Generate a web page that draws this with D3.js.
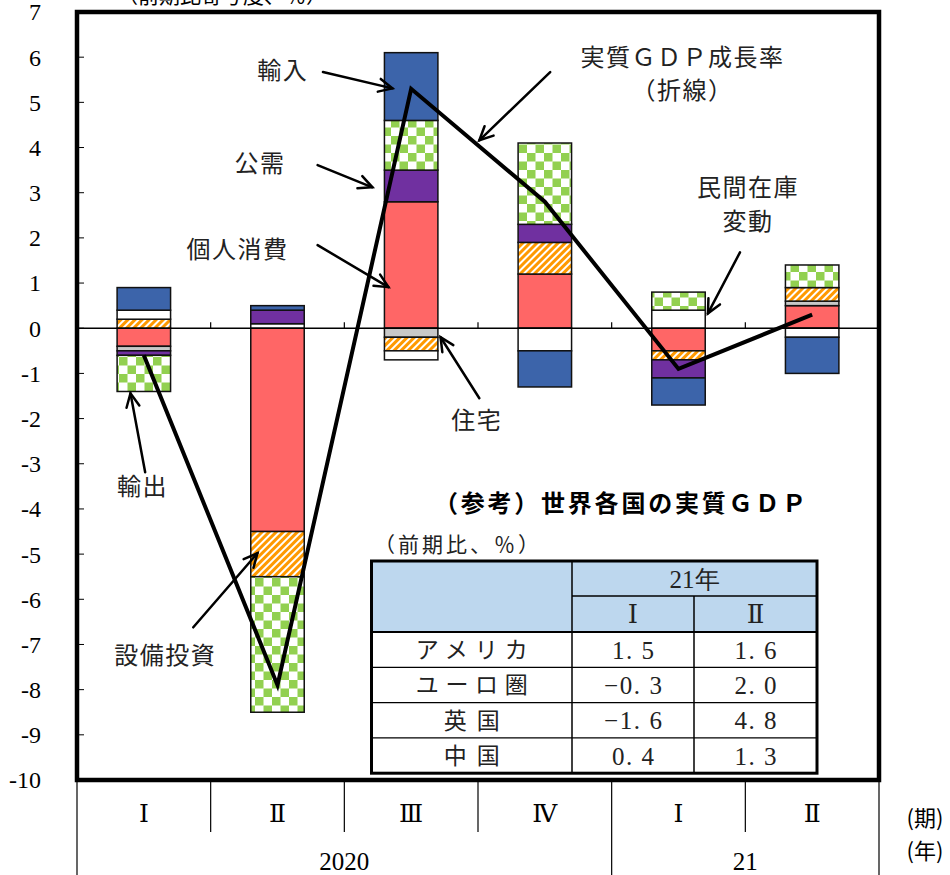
<!DOCTYPE html>
<html>
<head>
<meta charset="utf-8">
<script src="https://cdn.jsdelivr.net/npm/d3@7/dist/d3.min.js"></script>
<style>
  html, body { margin: 0; padding: 0; background: #fff; }
  svg { display: block; }
</style>
</head>
<body>
<svg id="chart" width="950" height="875"></svg>
<script>
// ---- data -------------------------------------------------------------
const quarters = ["Ⅰ", "Ⅱ", "Ⅲ", "Ⅳ", "Ⅰ", "Ⅱ"];
const years = ["2020", "21"];
const yearSpans = [4, 2];
const yTicks = [7, 6, 5, 4, 3, 2, 1, 0, -1, -2, -3, -4, -5, -6, -7, -8, -9, -10];

const seriesNames = ["個人消費", "住宅", "設備投資", "民間在庫変動", "公需", "輸出", "輸入"];
const privateConsumption = [-0.4, -4.5, 2.8, 1.2, -0.5, 0.5];
const housing            = [-0.1, 0.0, -0.2, 0.0, 0.0, 0.1];
const capex              = [0.2, -1.0, -0.3, 0.7, -0.2, 0.3];
const inventories        = [0.2, 0.1, -0.2, -0.5, 0.4, -0.2];
const publicDemand       = [-0.1, 0.3, 0.7, 0.4, -0.4, 0.0];
const exportsC           = [-0.8, -3.0, 1.1, 1.8, 0.4, 0.5];
const importsC           = [0.5, 0.1, 1.5, -0.8, -0.6, -0.8];
const realGdp            = [-0.6, -7.9, 5.3, 2.8, -0.9, 0.3];

// reference table: world real GDP, q/q %
const tableCountries = ["アメリカ", "ユーロ圏", "英国", "中国"];
const tableQ1 = ["1. 5", "−0. 3", "−1. 6", "0. 4"];
const tableQ2 = ["1. 6", "2. 0", "4. 8", "1. 3"];

// ---- setup ------------------------------------------------------------
const svg = d3.select("#chart");
const jp = "'Noto Sans CJK JP', 'Noto Sans', sans-serif";
const serif = "'Liberation Serif', 'DejaVu Serif', serif";

const plot = { left: 77, right: 879, top: 12, bottom: 780 };

const x = d3.scaleBand()
  .domain(d3.range(quarters.length))
  .range([plot.left, plot.right])
  .paddingInner(0.6).paddingOuter(0.3);
// continuous position in category units (0..6) for annotations and separators
const xc = d3.scaleLinear().domain([0, quarters.length]).range([plot.left, plot.right]);
const y = d3.scaleLinear().domain([-10, 7]).range([plot.bottom, plot.top]);

// fill patterns
const defs = svg.append("defs");
const checker = defs.append("pattern").attr("id", "checker")
  .attr("patternUnits", "userSpaceOnUse").attr("width", 17).attr("height", 17);
checker.append("rect").attr("width", 17).attr("height", 17).attr("fill", "#fff");
checker.append("rect").attr("width", 8.5).attr("height", 8.5).attr("fill", "#92D050");
checker.append("rect").attr("x", 8.5).attr("y", 8.5).attr("width", 8.5).attr("height", 8.5).attr("fill", "#92D050");

const hatch = defs.append("pattern").attr("id", "hatch")
  .attr("patternUnits", "userSpaceOnUse").attr("width", 5).attr("height", 5)
  .attr("patternTransform", "rotate(45)");
hatch.append("rect").attr("width", 5).attr("height", 5).attr("fill", "#fff");
hatch.append("rect").attr("width", 3).attr("height", 5).attr("fill", "#FF9900");

const fills = {
  "個人消費": "#FF6666",
  "住宅": "#C8C8C8",
  "設備投資": "url(#hatch)",
  "民間在庫変動": "#FFFFFF",
  "公需": "#7030A0",
  "輸出": "url(#checker)",
  "輸入": "#3C64AA"
};

// ---- stacked contributions -------------------------------------------
const columns = [privateConsumption, housing, capex, inventories, publicDemand, exportsC, importsC];
const rows = quarters.map((q, i) => {
  const r = { i };
  seriesNames.forEach((n, k) => { r[n] = columns[k][i]; });
  return r;
});
const stacked = d3.stack().keys(seriesNames).offset(d3.stackOffsetDiverging)(rows);

svg.append("g").selectAll("g").data(stacked).join("g")
  .attr("fill", d => fills[d.key])
  .selectAll("rect")
  .data(d => d.filter(s => Math.abs(s[1] - s[0]) > 1e-9))
  .join("rect")
  .attr("x", d => x(d.data.i))
  .attr("width", x.bandwidth())
  .attr("y", d => y(Math.max(d[0], d[1])))
  .attr("height", d => Math.abs(y(d[0]) - y(d[1])))
  .attr("stroke", "#111").attr("stroke-width", 1.5);

// zero line and boundary ticks
svg.append("line")
  .attr("x1", plot.left).attr("x2", plot.right)
  .attr("y1", y(0)).attr("y2", y(0))
  .attr("stroke", "#000").attr("stroke-width", 1.5);
svg.append("g").selectAll("line").data(d3.range(1, quarters.length)).join("line")
  .attr("x1", d => xc(d)).attr("x2", d => xc(d))
  .attr("y1", y(0)).attr("y2", y(0) - 6)
  .attr("stroke", "#000").attr("stroke-width", 1.2);

// real GDP growth line
svg.append("path")
  .datum(realGdp)
  .attr("d", d3.line().x((d, i) => x(i) + x.bandwidth() / 2).y(d => y(d)))
  .attr("fill", "none").attr("stroke", "#000").attr("stroke-width", 4)
  .attr("stroke-linejoin", "miter");

// y axis ticks and labels
svg.append("g").selectAll("line").data(yTicks).join("line")
  .attr("x1", plot.left).attr("x2", plot.left + 7)
  .attr("y1", d => y(d)).attr("y2", d => y(d))
  .attr("stroke", "#000").attr("stroke-width", 1);
svg.append("g").selectAll("text").data(yTicks).join("text")
  .attr("x", 41).attr("y", d => y(d))
  .attr("dy", "0.35em")
  .attr("text-anchor", "end")
  .attr("font-family", serif).attr("font-size", 24)
  .text(d => d < 0 ? "‐" + Math.abs(d) : String(d));

svg.append("text")
  .attr("x", 222).attr("y", 3)
  .attr("text-anchor", "middle")
  .attr("font-family", jp).attr("font-size", 21)
  .text("（前期比寄与度、％）");

// plot frame
svg.append("rect")
  .attr("x", plot.left).attr("y", plot.top)
  .attr("width", plot.right - plot.left).attr("height", plot.bottom - plot.top)
  .attr("fill", "none").attr("stroke", "#000").attr("stroke-width", 4.5);

// ---- category axis below the frame -----------------------------------
const yearBounds = [0];
yearSpans.forEach(s => yearBounds.push(yearBounds[yearBounds.length - 1] + s));
const axisG = svg.append("g");
axisG.selectAll("line.q").data(d3.range(0, quarters.length + 1)).join("line")
  .attr("x1", d => xc(d)).attr("x2", d => xc(d))
  .attr("y1", plot.bottom)
  .attr("y2", d => yearBounds.includes(d) ? 875 : 832)
  .attr("stroke", "#000").attr("stroke-width", 1.2);
axisG.selectAll("text.q").data(quarters).join("text")
  .attr("x", (d, i) => xc(i + 0.5)).attr("y", 813)
  .attr("dy", "0.35em").attr("text-anchor", "middle")
  .attr("font-family", serif).attr("font-size", 25)
  .text(d => d);
axisG.selectAll("text.y").data(years).join("text")
  .attr("x", (d, i) => xc((yearBounds[i] + yearBounds[i + 1]) / 2)).attr("y", 861)
  .attr("dy", "0.35em").attr("text-anchor", "middle")
  .attr("font-family", serif).attr("font-size", 25)
  .text(d => d);
axisG.append("text").attr("x", 925).attr("y", 818).attr("dy", "0.35em")
  .attr("text-anchor", "middle").attr("font-family", jp).attr("font-size", 22).text("(期)");
axisG.append("text").attr("x", 925).attr("y", 851).attr("dy", "0.35em")
  .attr("text-anchor", "middle").attr("font-family", jp).attr("font-size", 22).text("(年)");

// ---- annotations (positions in category units / percentage points) ---
const labels = [
  { t: "輸入", u: 1.54, v: 5.71 },
  { t: "公需", u: 1.37, v: 3.65 },
  { t: "個人消費", u: 1.20, v: 1.75 },
  { t: "実質ＧＤＰ成長率", u: 4.53, v: 6.00 },
  { t: "（折線）", u: 4.53, v: 5.27 },
  { t: "民間在庫", u: 5.02, v: 3.12 },
  { t: "変動", u: 5.02, v: 2.37 },
  { t: "住宅", u: 2.99, v: -2.04 },
  { t: "輸出", u: 0.49, v: -3.50 },
  { t: "設備投資", u: 0.66, v: -7.24 }
];
const arrows = [
  { u0: 1.84, v0: 5.67, u1: 2.36, v1: 5.31 },
  { u0: 1.80, v0: 3.61, u1: 2.21, v1: 3.12 },
  { u0: 1.80, v0: 1.84, u1: 2.33, v1: 0.91 },
  { u0: 3.54, v0: 5.67, u1: 3.01, v1: 4.16 },
  { u0: 4.96, v0: 1.68, u1: 4.72, v1: 0.33 },
  { u0: 3.01, v0: -1.55, u1: 2.72, v1: -0.20 },
  { u0: 0.51, v0: -3.19, u1: 0.40, v1: -1.44 },
  { u0: 0.87, v0: -6.62, u1: 1.35, v1: -4.98 }
];

svg.append("g").selectAll("text").data(labels).join("text")
  .attr("x", d => xc(d.u)).attr("y", d => y(d.v))
  .attr("dy", "0.36em").attr("text-anchor", "middle")
  .attr("font-family", jp).attr("font-size", 24).attr("letter-spacing", 1.5)
  .attr("fill", "#222")
  .text(d => d.t);

const arrowG = svg.append("g").attr("stroke", "#000").attr("stroke-width", 2.5)
  .attr("fill", "none").attr("stroke-linecap", "round");
arrows.forEach(a => {
  const x0 = xc(a.u0), y0 = y(a.v0), x1 = xc(a.u1), y1 = y(a.v1);
  const ang = Math.atan2(y1 - y0, x1 - x0);
  const L = 15, spread = Math.PI / 7;
  const p1 = [x1 - L * Math.cos(ang - spread), y1 - L * Math.sin(ang - spread)];
  const p2 = [x1 - L * Math.cos(ang + spread), y1 - L * Math.sin(ang + spread)];
  arrowG.append("path").attr("d", `M${x0},${y0}L${x1},${y1}`);
  arrowG.append("path").attr("d", `M${p1[0]},${p1[1]}L${x1},${y1}L${p2[0]},${p2[1]}`);
});

// ---- reference table -------------------------------------------------
const tb = { x0: 371.5, x1: 572, x2: 694, x3: 817, top: 561, h1: 596, h2: 632, rowH: 35.3 };
const tg = svg.append("g");
tg.append("text").attr("x", 620).attr("y", 503).attr("dy", "0.36em")
  .attr("text-anchor", "middle").attr("font-family", jp).attr("font-size", 24)
  .attr("font-weight", "bold").attr("textLength", 372).attr("lengthAdjust", "spacing")
  .text("（参考）世界各国の実質ＧＤＰ");
tg.append("text").attr("x", 374).attr("y", 544).attr("dy", "0.36em")
  .attr("font-family", jp).attr("font-size", 21).attr("textLength", 165).attr("lengthAdjust", "spacing")
  .attr("fill", "#222")
  .text("（前期比、％）");

const tBottom = tb.h2 + tb.rowH * tableCountries.length;
tg.append("rect").attr("x", tb.x0).attr("y", tb.top)
  .attr("width", tb.x3 - tb.x0).attr("height", tb.h2 - tb.top).attr("fill", "#BDD7EE");
tg.append("rect").attr("x", tb.x0).attr("y", tb.h2)
  .attr("width", tb.x3 - tb.x0).attr("height", tBottom - tb.h2).attr("fill", "#fff");

const tl = tg.append("g").attr("stroke", "#000").attr("stroke-width", 1.5);
tl.append("line").attr("x1", tb.x1).attr("x2", tb.x1).attr("y1", tb.top).attr("y2", tBottom);
tl.append("line").attr("x1", tb.x2).attr("x2", tb.x2).attr("y1", tb.h1).attr("y2", tBottom);
tl.append("line").attr("x1", tb.x1).attr("x2", tb.x3).attr("y1", tb.h1).attr("y2", tb.h1);
tl.selectAll("line.r").data(d3.range(0, tableCountries.length)).join("line")
  .attr("x1", tb.x0).attr("x2", tb.x3)
  .attr("y1", d => tb.h2 + d * tb.rowH).attr("y2", d => tb.h2 + d * tb.rowH)
  .attr("stroke-width", d => d === 0 ? 2 : 1.2);
tg.append("rect").attr("x", tb.x0).attr("y", tb.top)
  .attr("width", tb.x3 - tb.x0).attr("height", tBottom - tb.top)
  .attr("fill", "none").attr("stroke", "#000").attr("stroke-width", 3);

const cellText = (sel, xx, yy, t, fam, size, len) => {
  const el = sel.append("text").attr("x", xx).attr("y", yy).attr("dy", "0.36em")
    .attr("text-anchor", "middle").attr("font-family", fam).attr("font-size", size)
    .attr("fill", "#222").text(t);
  if (len) el.attr("textLength", len).attr("lengthAdjust", "spacing");
  return el;
};
cellText(tg, (tb.x1 + tb.x3) / 2, (tb.top + tb.h1) / 2, "21年", serif, 25);
cellText(tg, (tb.x1 + tb.x2) / 2, (tb.h1 + tb.h2) / 2, "Ⅰ", serif, 26);
cellText(tg, (tb.x2 + tb.x3) / 2, (tb.h1 + tb.h2) / 2, "Ⅱ", serif, 26);
tableCountries.forEach((c, i) => {
  const cy = tb.h2 + (i + 0.5) * tb.rowH;
  cellText(tg, (tb.x0 + tb.x1) / 2, cy, c, jp, 23, c.length === 4 ? 112 : 56);
  cellText(tg, (tb.x1 + tb.x2) / 2, cy, tableQ1[i], serif, 25, tableQ1[i].length > 4 ? 58 : 42);
  cellText(tg, (tb.x2 + tb.x3) / 2, cy, tableQ2[i], serif, 25, 42);
});
</script>
</body>
</html>
